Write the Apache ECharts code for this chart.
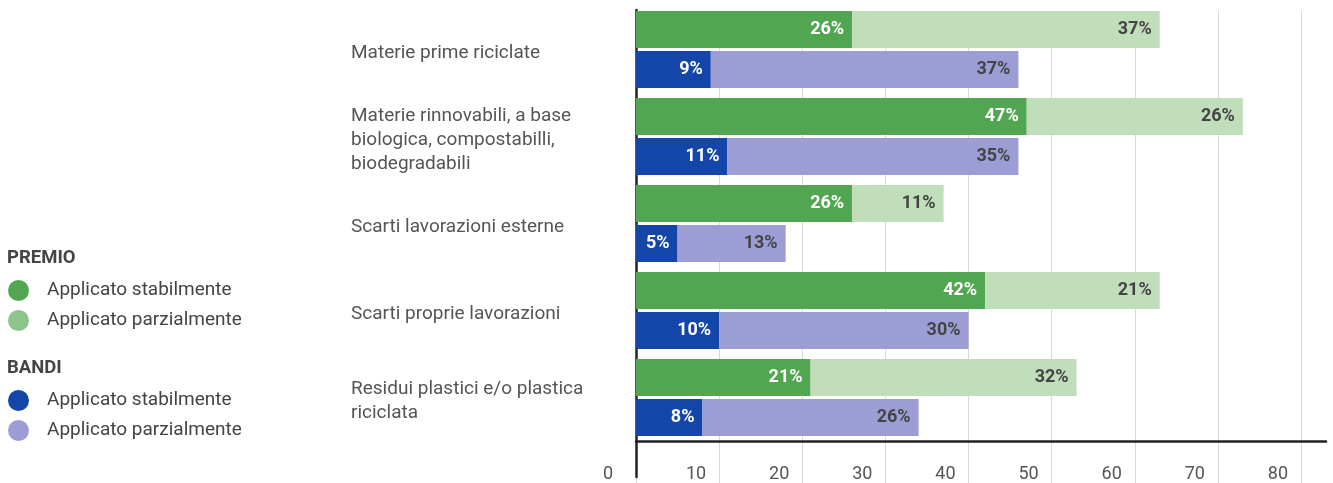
<!DOCTYPE html>
<html>
<head>
<meta charset="utf-8">
<script src="https://cdn.jsdelivr.net/npm/echarts@6/dist/echarts.min.js"></script>
<style>
  html, body { margin: 0; padding: 0; background: #fff; }
  #main { width: 1333px; height: 483px; }
</style>
</head>
<body>
<div id="main"></div>
<script>
// dati
const categories = [
  'Materie prime riciclate',
  'Materie rinnovabili, a base\nbiologica, compostabilli,\nbiodegradabili',
  'Scarti lavorazioni esterne',
  'Scarti proprie lavorazioni',
  'Residui plastici e/o plastica\nriciclata'
];
const premioStabile = [26, 47, 26, 42, 21];
const premioParziale = [37, 26, 11, 21, 32];
const bandiStabile = [9, 11, 5, 10, 8];
const bandiParziale = [37, 35, 13, 30, 26];
const xTicks = [0, 10, 20, 30, 40, 50, 60, 70, 80];

const font = 'Roboto, "Noto Sans", sans-serif';
const C = {
  greenDark: '#52a652', greenLight: '#c1debb', greenLegend: '#8dc48a',
  blueDark: '#1446a9', lavender: '#9d9dd6'
};

let myChart = echarts.init(document.getElementById('main'));

function barLabel(color) {
  return {
    show: true, position: 'insideRight', distance: 8,
    color: color, fontFamily: font, fontWeight: 'bold', fontSize: 18,
    formatter: '{c}%'
  };
}

function bar(name, stack, data, color, labelColor) {
  return {
    name: name, type: 'bar', stack: stack, data: data,
    xAxisIndex: 0, yAxisIndex: 0,
    barWidth: 37, barGap: '8%',
    itemStyle: { color: color },
    label: barLabel(labelColor)
  };
}

const legendText = { color: '#444', fontFamily: font, fontSize: 19, padding: [0, 0, 0, 13] };
const headText = { color: '#444', fontFamily: font, fontWeight: 'bold', fontSize: 18.5 };

myChart.setOption({
  animation: false,
  textStyle: { fontFamily: font },
  title: [
    { text: 'PREMIO', left: 7, top: 249, padding: 0, textStyle: headText },
    { text: 'BANDI', left: 7, top: 359, padding: 0, textStyle: headText }
  ],
  legend: [
    {
      orient: 'vertical', left: 8, top: 280, itemGap: 9,
      itemWidth: 21, itemHeight: 21, icon: 'circle',
      textStyle: legendText,
      formatter: n => n.split(' | ')[1],
      padding: 0,
      data: [
        { name: 'PREMIO | Applicato stabilmente', itemStyle: { color: C.greenDark } },
        { name: 'PREMIO | Applicato parzialmente', itemStyle: { color: C.greenLegend } }
      ]
    },
    {
      orient: 'vertical', left: 8, top: 390, itemGap: 9,
      itemWidth: 21, itemHeight: 21, icon: 'circle',
      textStyle: legendText,
      formatter: n => n.split(' | ')[1],
      padding: 0,
      data: [
        { name: 'BANDI | Applicato stabilmente', itemStyle: { color: C.blueDark } },
        { name: 'BANDI | Applicato parzialmente', itemStyle: { color: C.lavender } }
      ]
    }
  ],
  grid: [
    { left: 636, right: 7, top: 6, height: 435 },   // barre
    { left: 636, right: 7, top: 11, bottom: 0 },    // griglia verticale
    { left: 636, right: 7, top: 10, bottom: 6 },    // linea asse y
    { left: 636, right: 7, top: 10, height: 435 }   // etichette categorie
  ],
  xAxis: [
    {
      gridIndex: 0, type: 'value', min: 0, max: 83, interval: 10,
      axisLine: { show: true, lineStyle: { color: '#222', width: 2.5 } },
      axisTick: { show: false },
      splitLine: { show: false },
      axisLabel: {
        showMaxLabel: false, align: 'right', margin: 24,
        color: '#555', fontFamily: font, fontSize: 18,
        formatter: v => xTicks.indexOf(v) < 0 ? '' : (v === 0 ? '{z|0}' : '{n|' + v + '}'),
        rich: {
          z: { padding: [0, 23, 0, 0], color: '#555', fontSize: 18, fontFamily: font },
          n: { padding: [0, 13, 0, 0], color: '#555', fontSize: 18, fontFamily: font }
        }
      }
    },
    {
      gridIndex: 1, type: 'value', min: 0, max: 83, interval: 10,
      axisLine: { show: false }, axisTick: { show: false }, axisLabel: { show: false },
      splitLine: { show: true, showMaxLine: false, lineStyle: { color: '#d9d9d9', width: 1 } }
    },
    { gridIndex: 2, type: 'value', min: 0, max: 83, show: false },
    { gridIndex: 3, type: 'value', min: 0, max: 83, show: false }
  ],
  yAxis: [
    {
      gridIndex: 0, type: 'category', data: categories, inverse: true,
      axisLine: { show: false }, axisTick: { show: false }, axisLabel: { show: false }
    },
    {
      gridIndex: 1, type: 'value', show: false
    },
    {
      gridIndex: 2, type: 'value',
      axisLine: { show: true, lineStyle: { color: '#222', width: 2.5 } },
      axisTick: { show: false }, axisLabel: { show: false }, splitLine: { show: false }
    },
    {
      gridIndex: 3, type: 'category', data: categories, inverse: true,
      axisLine: { show: false }, axisTick: { show: false }, splitLine: { show: false },
      axisLabel: {
        align: 'left', margin: 285, color: '#555',
        fontFamily: font, fontSize: 19, lineHeight: 24
      }
    }
  ],
  series: [
    bar('PREMIO | Applicato stabilmente', 'premio', premioStabile, C.greenDark, '#fff'),
    bar('PREMIO | Applicato parzialmente', 'premio', premioParziale, C.greenLight, '#444'),
    bar('BANDI | Applicato stabilmente', 'bandi', bandiStabile, C.blueDark, '#fff'),
    bar('BANDI | Applicato parzialmente', 'bandi', bandiParziale, C.lavender, '#444')
  ]
});
</script>
</body>
</html>
